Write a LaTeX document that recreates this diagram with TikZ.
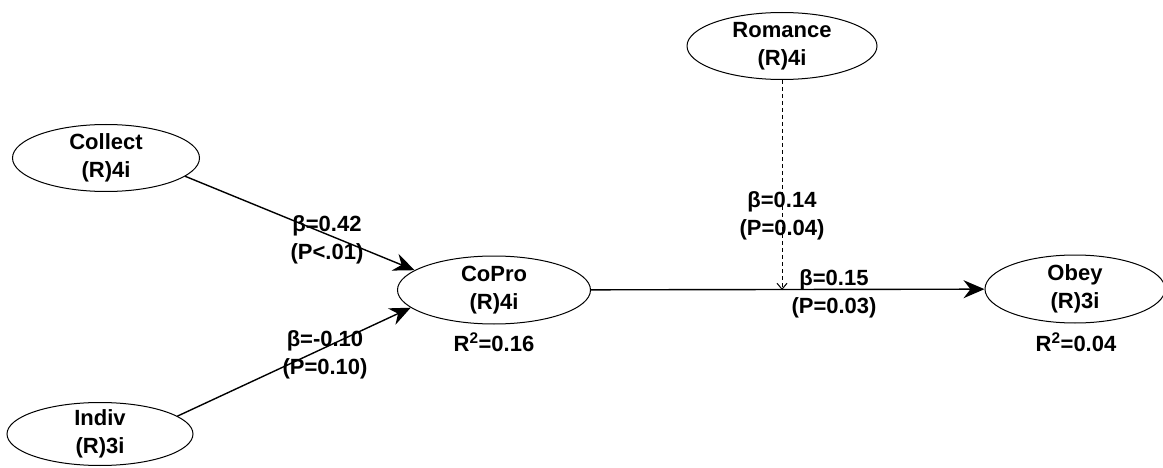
\documentclass[tikz,border=0pt]{standalone}
\usepackage{fontspec}
\setmainfont{Liberation Sans}
\usetikzlibrary{arrows.meta,shapes.geometric}
\begin{document}
\begin{tikzpicture}[x=1pt,y=-1pt,
  txt/.style={align=center,inner sep=0pt,font=\bfseries\fontsize{22}{28}\selectfont},
  lv/.style={ellipse,draw,line width=1pt,inner sep=0pt},
  lbl/.style={txt},
  path/.style={line width=1.4pt,-{Stealth[length=21pt,width=18pt,inset=7pt]}},
  dpath/.style={line width=1pt,dashed,dash pattern=on 4pt off 3pt,
    -{Straight Barb[length=6pt,width=10pt]}}
]
\useasboundingbox (0,0) rectangle (1163,468);
\node[lv,minimum width=187pt,minimum height=67pt,
  label={[txt]center:Collect\\(R)4i}] (collect) at (106,158) {};
\node[lv,minimum width=186pt,minimum height=63pt,
  label={[txt]center:Indiv\\(R)3i}] (indiv) at (100,434) {};
\node[lv,minimum width=190pt,minimum height=67pt,
  label={[txt]center:Romance\\(R)4i}] (romance) at (782,46) {};
\node[lv,minimum width=193pt,minimum height=68pt,
  label={[txt]center:CoPro\\(R)4i}] (copro) at (494,290) {};
\node[lv,minimum width=180pt,minimum height=68pt,
  label={[txt]center:Obey\\(R)3i}] (obey) at (1075,289) {};
\coordinate (mid) at (782,290);

\draw[path] (collect.-13) -- (copro.166);
\draw[path] (indiv.13) -- (copro.192);
\draw[path] (copro) -- (obey);
\draw[dpath] (romance) -- (mid);

\node[lbl] (l1) at (327,240) {β=0.42\\(P<.01)};
\node[lbl] (l2) at (325,355) {β=-0.10\\(P=0.10)};
\node[lbl] (l3) at (782,216) {β=0.14\\(P=0.04)};
\node[lbl] (l4) at (834,294) {β=0.15\\(P=0.03)};
\node[lbl] (r1) at (494,342) {R\textsuperscript{2}=0.16};
\node[lbl] (r2) at (1076,342) {R\textsuperscript{2}=0.04};
\end{tikzpicture}
\end{document}
